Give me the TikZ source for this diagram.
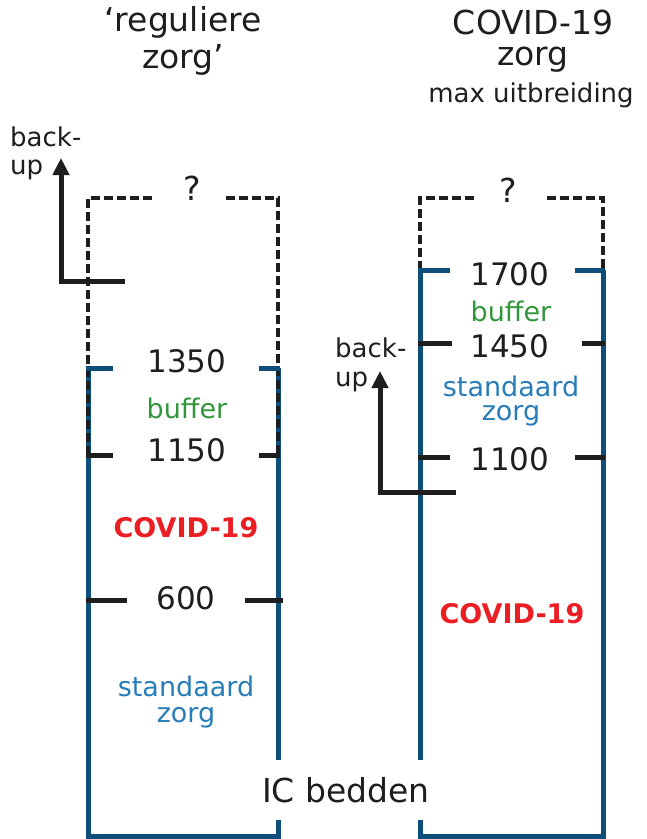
\documentclass[tikz,border=0pt]{standalone}
\usepackage{fontspec}
\setmainfont{DejaVu Sans}
\usetikzlibrary{arrows.meta}
\definecolor{colblue}{RGB}{14,78,122}
\definecolor{txtblue}{RGB}{40,125,185}
\definecolor{bufgreen}{RGB}{50,150,60}
\definecolor{covred}{RGB}{235,30,35}
\definecolor{ink}{RGB}{30,30,30}
\begin{document}
\begin{tikzpicture}[x=1pt,y=-1pt,
  edge/.style={line width=5pt,draw=colblue,line join=miter},
  dashedge/.style={line width=4.5pt,draw=ink,dash pattern=on 9pt off 4pt,line join=miter},
  tickmark/.style={line width=5pt,draw=ink},
  bluetick/.style={line width=5pt,draw=colblue},
  backarrow/.style={line width=5pt,draw=ink,line join=miter,-{Triangle[length=17pt,width=16pt]}},
  num/.style={font=\fontsize{31}{36}\selectfont,text=ink,inner sep=0pt},
  title/.style={font=\fontsize{33}{38}\selectfont,text=ink,inner sep=0pt},
  buf/.style={font=\fontsize{27}{30}\selectfont,text=bufgreen,inner sep=0pt},
  std/.style={font=\fontsize{27}{30}\selectfont,text=txtblue,inner sep=0pt},
  cov/.style={font=\bfseries\fontsize{27}{30}\selectfont,text=covred,inner sep=0pt},
  bk/.style={font=\fontsize{26}{30}\selectfont,text=ink,inner sep=0pt,anchor=west},
]
\useasboundingbox (0,0) rectangle (647,839);
\fill[white] (0,0) rectangle (647,839);

% ---------- titles
\node[title] (t1a) at (183,22) {‘reguliere};
\node[title] (t1b) at (183,60) {zorg’};
\node[title] (t2a) at (533,22) {COVID-19};
\node[title] (t2b) at (533,60) {zorg};
\node[font=\fontsize{26}{30}\selectfont,text=ink,inner sep=0pt] (t2c) at (531,95) {max uitbreiding};

% ---------- left column coordinates
\coordinate (LTL) at (88,198);
\coordinate (LTR) at (278,198);
\coordinate (LBL) at (88,836);
\coordinate (LBR) at (278,836);

\draw[edge] (88,368) -- (LBL) -- (LBR) -- (278,368);
\draw[dashedge] (88,455) -- (LTL) -- (154,198);
\draw[dashedge] (226,198) -- (LTR) -- (278,455);
\node[title] (q1) at (192,188) {?};

% ticks left
\draw[bluetick] (86,368) -- (113,368);
\draw[bluetick] (259,368) -- (280,368);
\draw[tickmark] (86,455) -- (113,455);
\draw[tickmark] (259,455) -- (280,455);
\draw[tickmark] (86,600) -- (127,600);
\draw[tickmark] (245,600) -- (283,600);

\node[num] (n1350) at (187,361) {1350};
\node[buf] (b1) at (187,408) {buffer};
\node[num] (n1150) at (187,450) {1150};
\node[cov] (c1) at (186,528) {COVID-19};
\node[num] (n600) at (186,598) {600};
\node[std] (s1a) at (186,686) {standaard};
\node[std] (s1b) at (186,718) {zorg};

% back-up left
\coordinate (ba1) at (125,281);
\coordinate (bc1) at (61,281);
\coordinate (bt1) at (61,158);
\draw[backarrow] (ba1) -- (bc1) -- (bt1);
\node[bk] (bk1a) at (10,137) {back-};
\node[bk] (bk1b) at (10,170) {up};

% ---------- right column
\coordinate (RTL) at (420,198);
\coordinate (RTR) at (603,198);
\coordinate (RBL) at (420,836);
\coordinate (RBR) at (603,836);

\draw[edge] (420,270) -- (RBL) -- (RBR) -- (603,270);
\draw[dashedge] (420,270) -- (RTL) -- (477,198);
\draw[dashedge] (547,198) -- (RTR) -- (603,270);
\node[title] (q2) at (508,190) {?};

\draw[bluetick] (418,270) -- (450,270);
\draw[bluetick] (575,270) -- (605,270);
\draw[tickmark] (418,343) -- (452,343);
\draw[tickmark] (582,343) -- (605,343);
\draw[tickmark] (418,457) -- (450,457);
\draw[tickmark] (575,457) -- (605,457);

\node[num] (n1700) at (510,274) {1700};
\node[buf] (b2) at (511,311) {buffer};
\node[num] (n1450) at (510,346) {1450};
\node[std] (s2a) at (511,386) {standaard};
\node[std] (s2b) at (511,416) {zorg};
\node[num] (n1100) at (510,459) {1100};
\node[cov] (c2) at (512,614) {COVID-19};

% back-up right
\coordinate (ba2) at (456,492);
\coordinate (bc2) at (380,492);
\coordinate (bt2) at (380,371);
\draw[backarrow] (ba2) -- (bc2) -- (bt2);
\node[bk] (bk2a) at (335,348) {back-};
\node[bk] (bk2b) at (335,382) {up};

% ---------- bottom label
\node[font=\fontsize{33}{38}\selectfont,text=ink,fill=white,minimum height=60pt,inner xsep=4pt] (ic) at (346,790) {IC bedden};
\end{tikzpicture}
\end{document}
